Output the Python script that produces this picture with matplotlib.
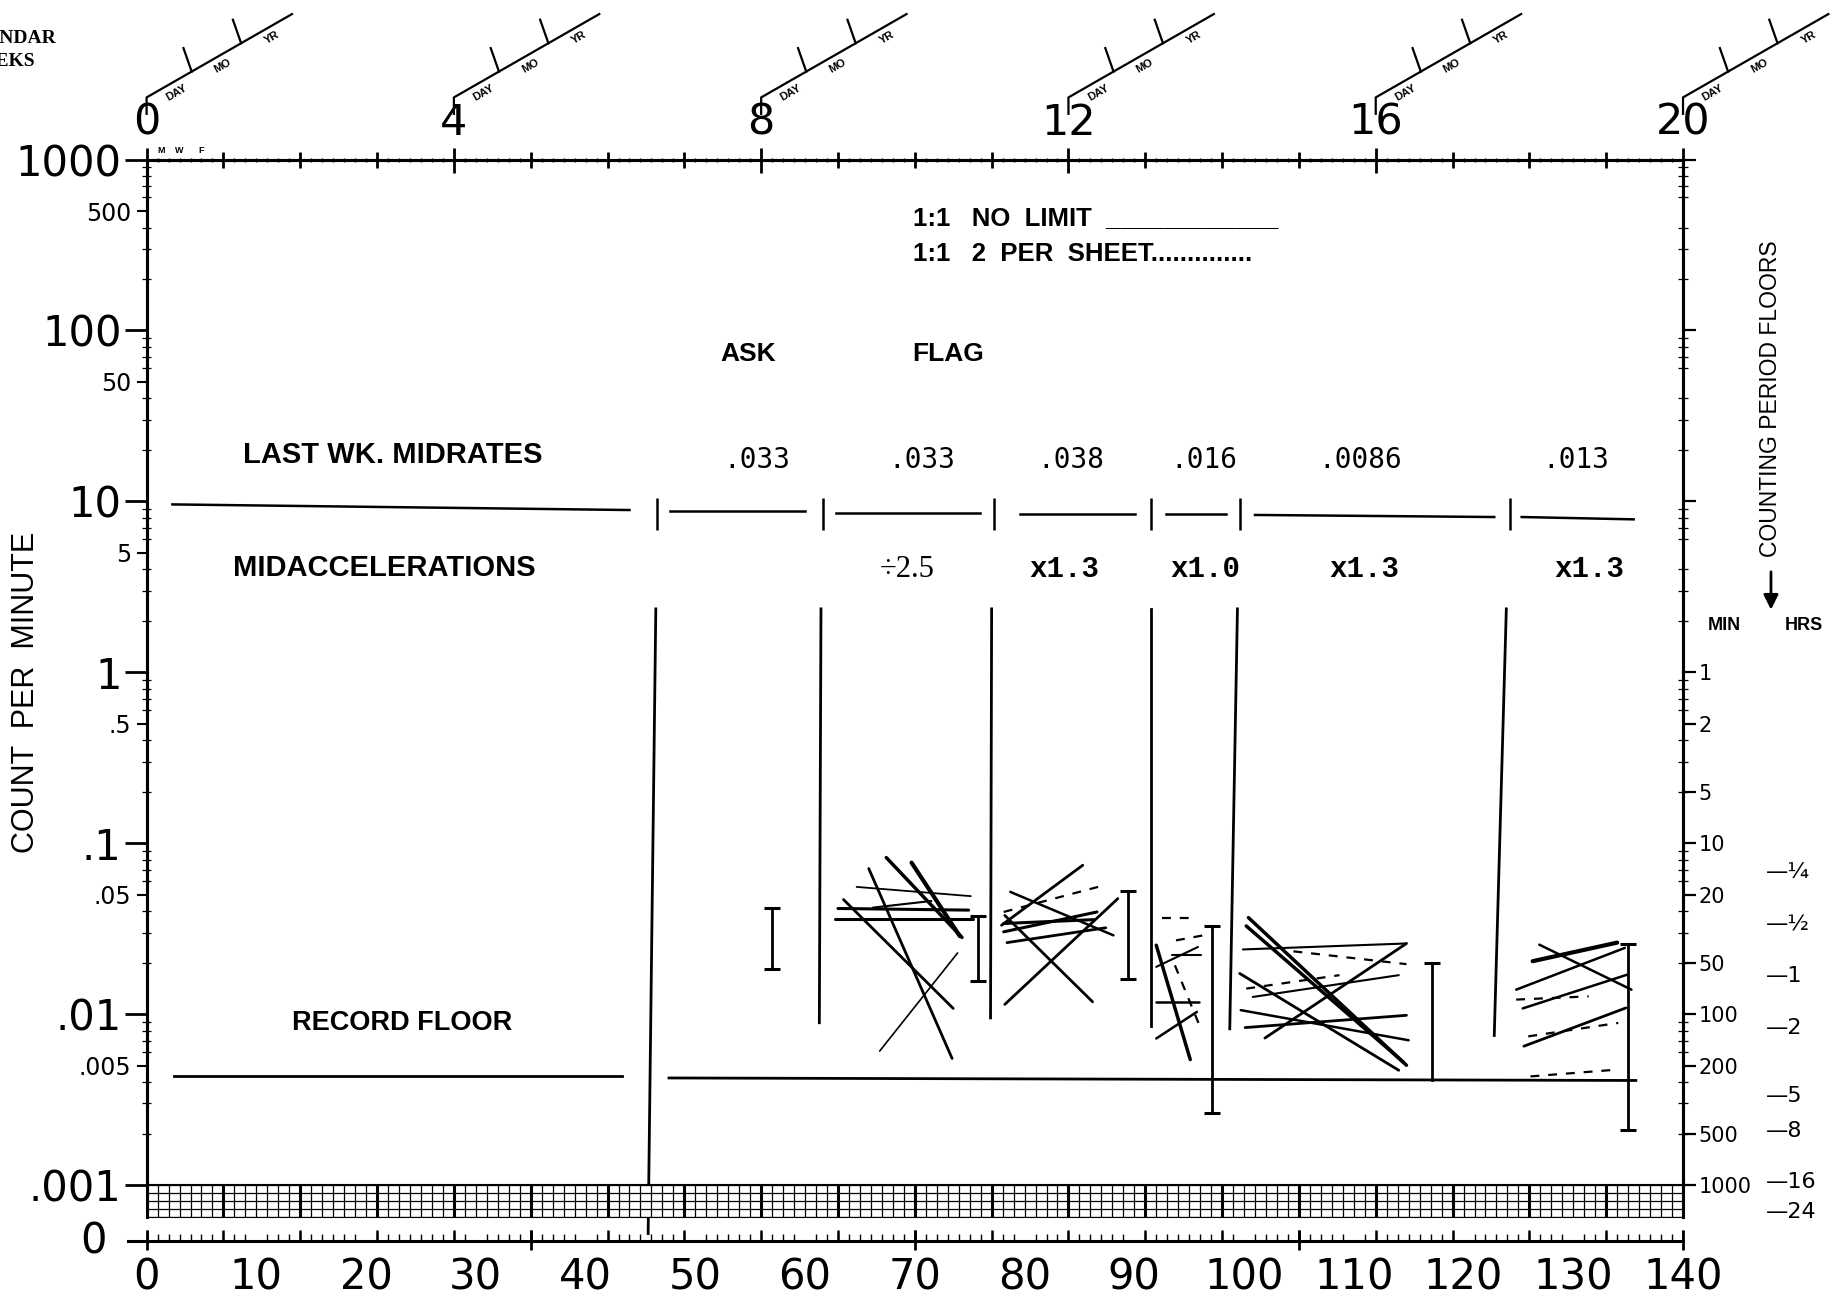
import matplotlib
matplotlib.use("Agg")
import matplotlib.pyplot as plt

# standard celeration chart (days, count per minute)
week_ticks = list(range(0, 141, 7))
day_labels = list(range(0, 141, 10))

count_ticks = [0.001, 0.01, 0.1, 1, 10, 100, 1000]
count_labels = [".001", ".01", ".1", "1", "10", "100", "1000"]
count_ticks5 = [0.005, 0.05, 0.5, 5, 50, 500]
count_labels5 = [".005", ".05", ".5", "5", "50", "500"]

floor_ticks = [1000, 100, 10, 1, 0.5, 0.2, 0.1, 0.05, 0.02, 0.01, 0.005, 0.002, 0.001]
floor_minutes = ["", "", "", "1", "2", "5", "10", "20", "50", "100", "200", "500", "1000"]
floor_hours = ["¼", "½", "1", "2", "5", "8", "16", "24"]
floor_hour_vals = [1 / 15, 1 / 30, 1 / 60, 1 / 120, 1 / 300, 1 / 480, 1 / 960, 1 / 1440]

# phase change lines
phase_top = [46.4, 61.45, 77.0, 91.5, 99.4, 123.9]
phase_bottom = [45.7, 61.3, 76.9, 91.5, 98.7, 122.8]
phase_low = [0.00052, 0.0089, 0.0095, 0.0085, 0.0082, 0.0075]
phase_high = 2.35

# last week midrates
midrate_start = [2.35, 47.7, 62.8, 79.6, 92.9, 101.0, 125.3]
midrate_end = [44.0, 60.0, 75.9, 90.1, 98.4, 122.8, 135.5]
midrate_v0 = [9.6, 8.73, 8.6, 8.46, 8.46, 8.33, 8.1]
midrate_v1 = [8.9, 8.73, 8.6, 8.46, 8.46, 8.1, 7.85]
midrate_marks = [46.5, 61.6, 77.2, 91.5, 99.6, 124.2]

midrate_text = [".033", ".033", ".038", ".016", ".0086", ".013"]
midrate_text_day = [55.6, 70.6, 84.2, 96.3, 110.6, 130.2]
midaccel_text = ["÷2.5", "x1.3", "x1.0", "x1.3", "x1.3"]
midaccel_day = [69.3, 83.6, 96.5, 111.0, 131.5]

# record floor
floor_start = [2.5, 47.6]
floor_end = [43.3, 135.7]
floor_v0 = [0.00437, 0.00423]
floor_v1 = [0.00437, 0.00409]

# celeration lines per phase: (day0, count0, day1, count1)
flag_lines = [(64.7, 0.0555, 75.1, 0.049), (63.0, 0.0415, 74.9, 0.0406),
              (62.7, 0.0362, 75.3, 0.0362), (66.2, 0.042, 71.5, 0.0459),
              (67.4, 0.0824, 74.3, 0.0281), (69.7, 0.077, 74.1, 0.0286),
              (65.8, 0.0711, 73.4, 0.0055), (63.5, 0.0468, 73.5, 0.0108),
              (66.8, 0.00608, 73.9, 0.0228)]
flag_widths = [1.3, 2.2, 2.2, 1.5, 2.5, 3.0, 2.0, 2.0, 1.2]

x13a_lines = [(77.9, 0.0331, 85.3, 0.0743), (78.7, 0.0519, 88.1, 0.0289),
              (78.2, 0.0378, 86.2, 0.0118), (78.2, 0.0114, 88.5, 0.0474),
              (78.1, 0.0303, 86.6, 0.0396), (78.4, 0.0262, 87.4, 0.032),
              (78.1, 0.0339, 86.3, 0.0357)]
x13a_widths = [2.0, 1.8, 2.0, 2.0, 2.2, 2.0, 2.2]
x13a_dashed = [(78.1, 0.0396, 86.7, 0.0555)]

x10_lines = [(92.0, 0.0189, 95.8, 0.0247), (93.4, 0.0221, 96.1, 0.0221),
             (92.0, 0.0253, 95.1, 0.00542), (92.0, 0.0118, 95.9, 0.0118),
             (92.0, 0.0072, 95.7, 0.0103)]
x10_widths = [1.5, 1.5, 2.5, 1.8, 1.8]
x10_dashed = [(92.5, 0.0367, 95.7, 0.0367), (93.8, 0.027, 96.3, 0.0289),
              (93.7, 0.0193, 96.0, 0.0084)]

x13b_lines = [(100.4, 0.0367, 114.8, 0.00502), (100.2, 0.0328, 114.5, 0.00525),
              (99.9, 0.0239, 114.8, 0.0259), (101.9, 0.00724, 114.8, 0.0259),
              (100.8, 0.0126, 114.1, 0.0169), (99.6, 0.0173, 114.1, 0.00469),
              (99.7, 0.01055, 115.0, 0.00703), (100.1, 0.00834, 114.8, 0.00984)]
x13b_widths = [2.5, 2.5, 1.5, 2.0, 1.5, 2.0, 1.8, 2.0]
x13b_dashed = [(104.5, 0.0233, 114.8, 0.0196), (100.2, 0.0141, 108.7, 0.0169)]

x13c_lines = [(126.3, 0.0204, 134.0, 0.0262), (124.8, 0.0139, 134.7, 0.0244),
              (126.9, 0.0255, 135.3, 0.0139), (125.4, 0.0108, 134.9, 0.017),
              (125.5, 0.00649, 134.8, 0.01087)]
x13c_widths = [3.0, 1.8, 1.8, 1.8, 2.0]
x13c_dashed = [(124.8, 0.01216, 131.4, 0.0127), (125.9, 0.00741, 134.1, 0.00888),
               (126.1, 0.00432, 134.1, 0.00474)]

# range bars
bar_day = [57.0, 75.8, 89.4, 97.1, 135.0]
bar_hi = [0.0415, 0.0374, 0.0524, 0.0327, 0.0257]
bar_lo = [0.0183, 0.0156, 0.0161, 0.00264, 0.00211]
tbar_day = 117.1
tbar_hi = 0.02
tbar_lo = 0.0041

WORDS = "Liberation Sans"

fig = plt.figure(figsize=(18.39, 13.0), dpi=100)
L, W = 125 / 1568, 1310 / 1568
ax = fig.add_axes([L, 1 - 1010 / 1108, W, 874 / 1108])
ax.set_xlim(0, 140)
ax.set_yscale("log")
ax.set_ylim(1e-3, 1e3)
for s in ax.spines.values():
    s.set_linewidth(2.2)

# top calendar axis
ax.xaxis.tick_top()
ax.set_xticks(week_ticks, [str(d // 7) if d % 28 == 0 else "" for d in week_ticks])
ax.set_xticks(range(0, 141), minor=True)
ax.tick_params(axis="x", which="major", direction="inout", length=11, width=2,
               pad=6, labelsize=31)
ax.tick_params(axis="x", which="minor", direction="inout", length=3, width=1)
for t, d in zip(ax.xaxis.get_major_ticks(), week_ticks):
    if d % 28 == 0:
        t.tick2line.set_markersize(18)

# left count axis
ax.set_yticks(count_ticks, count_labels)
ax.set_yticks(count_ticks5, count_labels5, minor=True)
ax.tick_params(axis="y", which="major", direction="out", length=16, width=2,
               labelsize=30, pad=2)
ax.tick_params(axis="y", which="minor", direction="out", length=7, width=1.5,
               labelsize=17, pad=4)
small = [m * 10.0 ** e for e in range(-3, 3) for m in (2, 3, 4, 6, 7, 8, 9)]
ax.hlines(small, -0.003, 0.003, transform=ax.get_yaxis_transform(), color="k",
          lw=0.9, clip_on=False)
ax.hlines(small, 0.997, 1.003, transform=ax.get_yaxis_transform(), color="k",
          lw=0.9, clip_on=False)

# right counting period floors
ax2 = ax.twinx()
ax2.set_yscale("log")
ax2.set_ylim(1e-3, 1e3)
ax2.set_yticks(floor_ticks, floor_minutes)
ax2.yaxis.set_minor_locator(plt.NullLocator())
ax2.tick_params(axis="y", direction="out", length=9, width=1.6, labelsize=15, pad=2)
for s in ax2.spines.values():
    s.set_linewidth(2.2)

for lab, v in zip(floor_hours, floor_hour_vals):
    ax.text(1.054, v, "—" + lab, transform=ax.get_yaxis_transform(), ha="left",
            va="center", fontsize=16, clip_on=False)

# calendar stamps
xt = ax.get_xaxis_transform()
for d in range(0, 141, 28):
    ax.plot([d, d, d + 13.25], [1.0446, 1.0606, 1.1419], transform=xt,
            color="k", lw=1.6, clip_on=False)
    for f in (0.31, 0.65):
        px, py = d + f * 13.25, 1.0606 + f * 0.0813
        ax.plot([px, px - 0.75], [py, py + 0.0229], transform=xt, color="k",
                lw=1.6, clip_on=False)
    for f, lab in ((0.17, "DAY"), (0.49, "MO"), (0.83, "YR")):
        ax.text(d + f * 13.25 + 0.45, 1.0606 + f * 0.0813 - 0.009, lab,
                transform=xt, rotation=30, ha="center", va="center", fontsize=8,
                family=WORDS, weight="bold", clip_on=False)
for d, lab in zip([1.3, 3.0, 5.0], ["M", "W", "F"]):
    ax.text(d, 1.004, lab, transform=xt, ha="center", va="bottom", fontsize=6.5,
            family=WORDS, weight="bold")

# chart contents
for t, b, lo in zip(phase_top, phase_bottom, phase_low):
    ax.plot([t, b], [phase_high, lo], color="k", lw=2.0, clip_on=False)

for d0, d1, v0, v1 in zip(midrate_start, midrate_end, midrate_v0, midrate_v1):
    ax.plot([d0, d1], [v0, v1], color="k", lw=1.8)
ax.vlines(midrate_marks, 6.8, 10.5, color="k", lw=1.8)

for d0, d1, v0, v1 in zip(floor_start, floor_end, floor_v0, floor_v1):
    ax.plot([d0, d1], [v0, v1], color="k", lw=2.0)

for lines, widths in ((flag_lines, flag_widths), (x13a_lines, x13a_widths),
                      (x10_lines, x10_widths), (x13b_lines, x13b_widths),
                      (x13c_lines, x13c_widths)):
    for (d0, v0, d1, v1), w in zip(lines, widths):
        ax.plot([d0, d1], [v0, v1], color="k", lw=w, solid_capstyle="round")
for lines in (x13a_dashed, x10_dashed, x13b_dashed, x13c_dashed):
    for d0, v0, d1, v1 in lines:
        ax.plot([d0, d1], [v0, v1], color="k", lw=1.6, ls=(0, (4, 4)))

for d, hi, lo in zip(bar_day, bar_hi, bar_lo):
    ax.plot([d, d], [lo, hi], color="k", lw=2.0, marker="_", markersize=12,
            markeredgewidth=2.2)
ax.plot([tbar_day, tbar_day], [tbar_lo, tbar_hi], color="k", lw=2.0)
ax.plot([tbar_day], [tbar_hi], color="k", marker="_", markersize=12,
        markeredgewidth=2.2)

# chart text
ax.text(69.8, 454, "1:1   NO  LIMIT  ____________", fontsize=18.5, family=WORDS,
        weight="bold", va="center")
ax.text(69.8, 282, "1:1   2  PER  SHEET..............", fontsize=18.5, family=WORDS,
        weight="bold", va="center")
ax.text(54.8, 72.6, "ASK", fontsize=19, family=WORDS, weight="bold",
        ha="center", va="center")
ax.text(73.0, 72.6, "FLAG", fontsize=19, family=WORDS, weight="bold",
        ha="center", va="center")
ax.text(22.4, 18.6, "LAST WK. MIDRATES", fontsize=21, family=WORDS,
        weight="bold", ha="center", va="center")
ax.text(21.7, 4.09, "MIDACCELERATIONS", fontsize=21, family=WORDS,
        weight="bold", ha="center", va="center")
ax.text(23.3, 0.0089, "RECORD FLOOR", fontsize=19.5, family=WORDS,
        weight="bold", ha="center", va="center")
for d, lab in zip(midrate_text_day, midrate_text):
    ax.text(d, 17.5, lab, fontsize=20, family="DejaVu Sans Mono",
            ha="center", va="center")
for d, lab in zip(midaccel_day, midaccel_text):
    if lab.startswith("÷"):
        ax.text(d, 4.0, lab, fontsize=22, family="Liberation Serif",
                ha="center", va="center")
    else:
        ax.text(d, 4.0, lab, fontsize=21, family="Liberation Mono",
                weight="bold", ha="center", va="center")

# grid band under .001
axg = fig.add_axes([L, 1 - 1037 / 1108, W, 27 / 1108])
axg.set_xlim(0, 140)
axg.set_ylim(0, 4)
for d in range(0, 141):
    axg.axvline(d, color="k", lw=2.2 if d % 7 == 0 else 0.9)
for r in range(5):
    axg.axhline(r, color="k", lw=0.9)
axg.set_xticks([])
axg.set_yticks([])
axg.spines["top"].set_visible(False)
for k in ("left", "right"):
    axg.spines[k].set_linewidth(2.2)

# zero line axis with day numbers
axz = fig.add_axes([L, 1 - 1058 / 1108, W, 20 / 1300])
axz.set_xlim(0, 140)
axz.set_ylim(0, 1)
axz.patch.set_visible(False)
for k in ("top", "left", "right"):
    axz.spines[k].set_visible(False)
axz.spines["bottom"].set_linewidth(2.2)
axz.set_yticks([])
axz.set_xticks(day_labels, [str(d) for d in day_labels])
axz.set_xticks(range(0, 141), minor=True)
axz.tick_params(axis="x", which="major", length=0, pad=11, labelsize=30)
axz.tick_params(axis="x", which="minor", direction="in", length=5, width=1)
axz.vlines(week_ticks, 0, 0.55, color="k", lw=1.8)
axz.vlines([0, 35, 70, 105, 140], -0.45, 0.55, color="k", lw=2.0, clip_on=False)
axz.plot([-1.7, 0], [0, 0], transform=axz.get_xaxis_transform(), color="k",
         lw=2.2, clip_on=False)
axz.text(-3.6, 0, "0", transform=axz.get_xaxis_transform(), ha="right",
         va="center", fontsize=30)

# side labels
fig.text(22 / 1568, 1 - 590 / 1108, "COUNT  PER  MINUTE", rotation=90,
         ha="center", va="center", fontsize=22, family=WORDS)
fig.text(1510 / 1568, 1 - 340 / 1108, "COUNTING PERIOD FLOORS", rotation=90,
         ha="center", va="center", fontsize=16.5, family=WORDS)
ax.annotate("", xy=(1510 / 1568, 1 - 522 / 1108), xytext=(1510 / 1568, 1 - 485 / 1108),
            xycoords="figure fraction", textcoords="figure fraction",
            arrowprops=dict(arrowstyle="-|>", color="k", lw=2, mutation_scale=22))
fig.text(1470 / 1568, 1 - 533 / 1108, "MIN", ha="center", va="center",
         fontsize=13, family=WORDS, weight="bold")
fig.text(1538 / 1568, 1 - 533 / 1108, "HRS", ha="center", va="center",
         fontsize=13, family=WORDS, weight="bold")
# the scan cuts this label off at the left page edge
fig.text(0.0, 1 - 33 / 1108, "CALENDAR", ha="center", va="center", fontsize=14,
         family="Liberation Serif", weight="bold")
fig.text(0.0, 1 - 52 / 1108, "WEEKS", ha="center", va="center", fontsize=14,
         family="Liberation Serif", weight="bold")

fig.savefig("out.png", dpi=100)
